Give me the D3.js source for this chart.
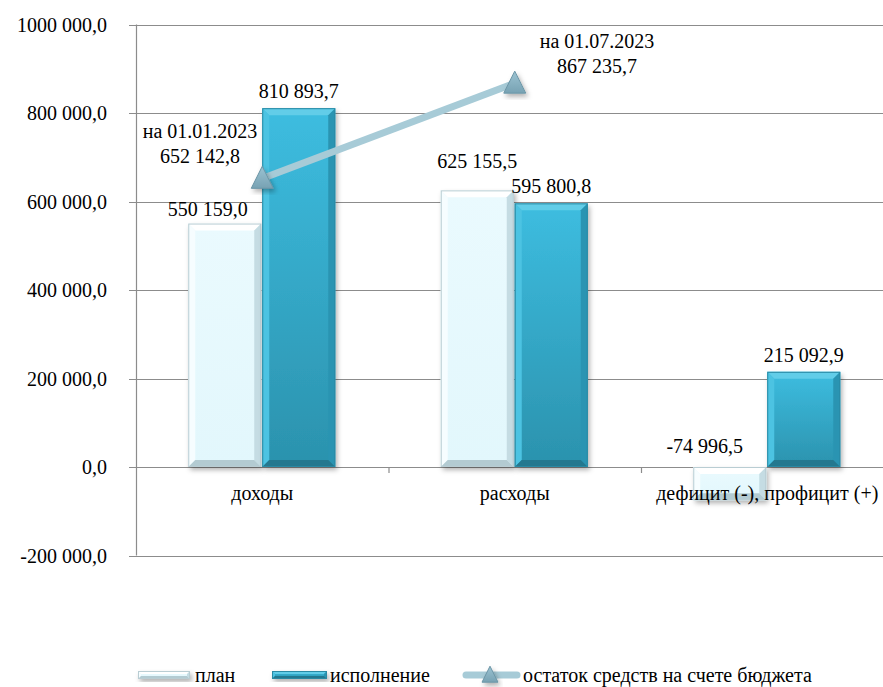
<!DOCTYPE html>
<html>
<head>
<meta charset="utf-8">
<script src="https://cdn.jsdelivr.net/npm/d3@7"></script>
<style>
  body { margin: 0; background: #fff; }
  svg text { font-family: "Liberation Serif", "Times New Roman", Tinos, "DejaVu Serif", serif; fill: #000; }
</style>
</head>
<body>
<svg id="chart" width="883" height="687"></svg>
<script>
// chart data
var categories = ["доходы", "расходы", "дефицит (-), профицит (+)"];
var planValues = [550159.0, 625155.5, -74996.5];
var execValues = [810893.7, 595800.8, 215092.9];
var planLabels = ["550 159,0", "625 155,5", "-74 996,5"];
var execLabels = ["810 893,7", "595 800,8", "215 092,9"];
var balanceValues = [652142.8, 867235.7];
var balanceLabels = [["на 01.01.2023", "652 142,8"], ["на 01.07.2023", "867 235,7"]];
var yTicks = [-200000, 0, 200000, 400000, 600000, 800000, 1000000];
var yTickLabels = ["-200 000,0", "0,0", "200 000,0", "400 000,0", "600 000,0", "800 000,0", "1000 000,0"];
var legendNames = ["план", "исполнение", "остаток средств на счете бюджета"];

var svg = d3.select("#chart");
var left = 136, catW = 252.5;

var x = d3.scaleBand().domain(categories).range([left, left + catW * 3]).paddingInner(0).paddingOuter(0);
var y = d3.scaleLinear().domain([-200000, 1000000]).range([555.5, 24.5]);
var barW = 73;

var defs = svg.append("defs");
var gExec = defs.append("linearGradient").attr("id", "gExec").attr("x1", 0).attr("y1", 0).attr("x2", 0).attr("y2", 1);
gExec.append("stop").attr("offset", 0).attr("stop-color", "#3dbde0");
gExec.append("stop").attr("offset", 1).attr("stop-color", "#2b92ad");
var gPlan = defs.append("linearGradient").attr("id", "gPlan").attr("x1", 0).attr("y1", 0).attr("x2", 0).attr("y2", 1);
gPlan.append("stop").attr("offset", 0).attr("stop-color", "#eafafe");
gPlan.append("stop").attr("offset", 1).attr("stop-color", "#e2f7fc");
var gTri = defs.append("linearGradient").attr("id", "gTri").attr("x1", 0).attr("y1", 0).attr("x2", 0).attr("y2", 1);
gTri.append("stop").attr("offset", 0).attr("stop-color", "#9cc3d2");
gTri.append("stop").attr("offset", 1).attr("stop-color", "#77a2b3");
var shadow = defs.append("filter").attr("id", "shadow").attr("x", "-20%").attr("y", "-20%").attr("width", "150%").attr("height", "150%");
shadow.append("feDropShadow").attr("dx", 2).attr("dy", 3).attr("stdDeviation", 2.5)
  .attr("flood-color", "#000").attr("flood-opacity", 0.3);

// gridlines
svg.append("g").selectAll("line").data(yTicks).join("line")
  .attr("x1", left - 7).attr("x2", 883)
  .attr("y1", function (d) { return Math.round(y(d)) + 0.5; })
  .attr("y2", function (d) { return Math.round(y(d)) + 0.5; })
  .attr("stroke", "#8c8c8c").attr("stroke-width", 1.2);

// y axis line
svg.append("line").attr("x1", left + 0.5).attr("x2", left + 0.5)
  .attr("y1", y(1000000)).attr("y2", y(-200000))
  .attr("stroke", "#8c8c8c").attr("stroke-width", 1.2);

// category ticks on zero line
svg.append("g").selectAll("line").data(categories.slice(1)).join("line")
  .attr("x1", function (d) { return x(d) + 0.5; }).attr("x2", function (d) { return x(d) + 0.5; })
  .attr("y1", y(0)).attr("y2", y(0) + 6)
  .attr("stroke", "#8c8c8c").attr("stroke-width", 1.2);

// y tick labels
svg.append("g").selectAll("text").data(yTicks).join("text")
  .attr("x", 107).attr("y", function (d) { return y(d) + 7; })
  .attr("text-anchor", "end").attr("font-size", 20)
  .text(function (d, i) { return yTickLabels[i]; });

function bevelBar(g, x0, y0, w, h, kind, bev) {
  var b = Math.min(bev || 7, h / 2);
  var cols = kind === "exec"
    ? { top: "#62cde8", left: "#4cc3e2", right: "#2a94b2", bottom: "#24788f", edge: "#2a8aa4" }
    : { top: "#ffffff", left: "#f6fdff", right: "#c5dce3", bottom: "#b3cbd2", edge: "#b9cdd3" };
  var bar = g.append("g").attr("filter", "url(#shadow)");
  bar.append("rect").attr("x", x0).attr("y", y0).attr("width", w).attr("height", h)
    .attr("fill", kind === "exec" ? "url(#gExec)" : "url(#gPlan)");
  var x1 = x0 + w, y1 = y0 + h;
  var faces = [
    [[x0, y0], [x1, y0], [x1 - b, y0 + b], [x0 + b, y0 + b], cols.top],
    [[x0, y0], [x0 + b, y0 + b], [x0 + b, y1 - b], [x0, y1], cols.left],
    [[x1, y0], [x1, y1], [x1 - b, y1 - b], [x1 - b, y0 + b], cols.right],
    [[x0, y1], [x0 + b, y1 - b], [x1 - b, y1 - b], [x1, y1], cols.bottom]
  ];
  faces.forEach(function (f) {
    g.append("polygon").attr("points", f.slice(0, 4).map(function (p) { return p.join(","); }).join(" "))
      .attr("fill", f[4]);
  });
  g.append("rect").attr("x", x0 + 0.5).attr("y", y0 + 0.5).attr("width", w - 1).attr("height", h - 1)
    .attr("fill", "none").attr("stroke", cols.edge).attr("stroke-width", 1);
}

var bars = svg.append("g");
categories.forEach(function (c, i) {
  var cx = x(c) + x.bandwidth() / 2;
  var pv = planValues[i], ev = execValues[i];
  bevelBar(bars.append("g"), cx - barW - 1, Math.min(y(pv), y(0)), barW, Math.abs(y(pv) - y(0)), "plan");
  bevelBar(bars.append("g"), cx, Math.min(y(ev), y(0)), barW, Math.abs(y(ev) - y(0)), "exec");
});

// category labels (drawn over the bars)
svg.append("g").selectAll("text").data(categories).join("text")
  .attr("x", function (d) { return x(d) + x.bandwidth() / 2; }).attr("y", 500)
  .attr("text-anchor", "middle").attr("font-size", 20)
  .text(function (d) { return d; });

// bar value labels
var labels = svg.append("g").attr("font-size", 20);
categories.forEach(function (c, i) {
  var cx = x(c) + x.bandwidth() / 2;
  var pv = planValues[i], ev = execValues[i];
  var py = pv >= 0 ? y(pv) - 8 : y(0) - 14;
  // nudge plan labels sideways like the original
  var dx = i === 0 ? -18 : (i === 1 ? -1 : -26);
  labels.append("text").attr("x", cx - barW / 2 + dx).attr("y", i === 1 ? y(pv) - 22 : py)
    .attr("text-anchor", "middle").text(planLabels[i]);
  labels.append("text").attr("x", cx + barW / 2).attr("y", y(ev) - 10)
    .attr("text-anchor", "middle").text(execLabels[i]);
});

// balance line
var lx = d3.scalePoint().domain([0, 1]).range([x(categories[0]) + x.bandwidth() / 2, x(categories[1]) + x.bandwidth() / 2]);
var line = d3.line().x(function (d, i) { return lx(i); }).y(function (d) { return y(d); });
svg.append("path").datum(balanceValues).attr("d", line)
  .attr("fill", "none").attr("stroke", "#a7cbd7").attr("stroke-width", 7);

function triangle(g, cx, cy, s) {
  g.append("polygon")
    .attr("points", [[cx, cy - s * 0.55], [cx + s / 2, cy + s * 0.45], [cx - s / 2, cy + s * 0.45]].map(function (p) { return p.join(","); }).join(" "))
    .attr("fill", "url(#gTri)").attr("stroke", "#6b95a6").attr("stroke-width", 1)
    .attr("filter", "url(#shadow)");
}
var tri = svg.append("g");
balanceValues.forEach(function (v, i) { triangle(tri, lx(i), y(v), 22); });

// balance labels
var blabel = svg.append("g").attr("font-size", 20).attr("text-anchor", "middle");
var bpos = [[200, 138], [597, 48]];
balanceLabels.forEach(function (l, i) {
  blabel.append("text").attr("x", bpos[i][0]).attr("y", bpos[i][1]).text(l[0]);
  blabel.append("text").attr("x", bpos[i][0]).attr("y", bpos[i][1] + 25).text(l[1]);
});

// legend
var leg = svg.append("g").attr("font-size", 20);
var ly = 682;
bevelBar(leg.append("g"), 138, ly - 11, 52, 8, "plan", 3);
leg.append("text").attr("x", 195).attr("y", ly).text(legendNames[0]);
bevelBar(leg.append("g"), 272, ly - 11, 55, 8, "exec", 3);
leg.append("text").attr("x", 330).attr("y", ly).text(legendNames[1]);
leg.append("line").attr("x1", 466).attr("x2", 517).attr("y1", ly - 7).attr("y2", ly - 7)
  .attr("stroke", "#a7cbd7").attr("stroke-width", 7).attr("stroke-linecap", "round");
triangle(leg, 490, ly - 7, 16);
leg.append("text").attr("x", 523).attr("y", ly).text(legendNames[2]);
</script>
</body>
</html>
